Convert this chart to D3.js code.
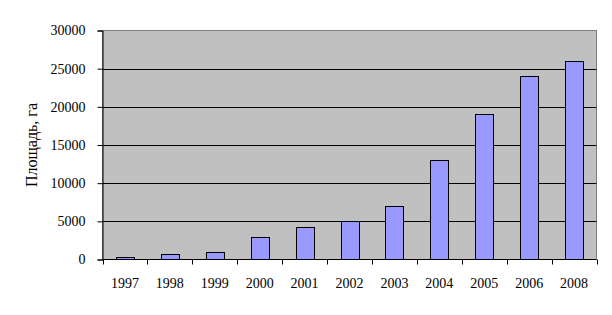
<!DOCTYPE html>
<html>
<head>
<meta charset="utf-8">
<script src="https://cdn.jsdelivr.net/npm/d3@7"></script>
<style>
  body { margin: 0; background: #fff; }
  text { font-family: "Liberation Serif", "Times New Roman", serif; }
</style>
</head>
<body>
<div id="chart"></div>
<script>
const years = ['1997', '1998', '1999', '2000', '2001', '2002', '2003', '2004', '2005', '2006', '2008'];
const areas = [300, 700, 1000, 3000, 4200, 5000, 7000, 13100, 19000, 24000, 26000];
const yTicks = [0, 5000, 10000, 15000, 20000, 25000, 30000];
const yTitle = 'Площадь, га';

const W = 612, H = 315;
const plot = {left: 102.5, right: 596.5, top: 30.5, bottom: 259.5};

const svg = d3.select('#chart').append('svg')
    .attr('width', W)
    .attr('height', H);

const x = d3.scaleBand()
    .domain(years)
    .range([plot.left, plot.right])
    .paddingInner(0.6)
    .paddingOuter(0.3);

const xEdge = d3.scaleLinear()
    .domain([0, years.length])
    .range([plot.left, plot.right]);

const y = d3.scaleLinear()
    .domain([0, 30000])
    .range([plot.bottom, plot.top]);

// фон области построения
svg.append('rect')
    .attr('x', plot.left)
    .attr('y', plot.top)
    .attr('width', plot.right - plot.left)
    .attr('height', plot.bottom - plot.top)
    .attr('fill', '#c0c0c0')
    .attr('stroke', '#808080')
    .attr('stroke-width', 1);

// линии сетки
svg.append('g')
    .selectAll('line')
    .data(yTicks.filter(d => d > 0 && d < 30000))
    .enter()
    .append('line')
    .attr('x1', plot.left)
    .attr('x2', plot.right)
    .attr('y1', d => Math.round(y(d)) + 0.5)
    .attr('y2', d => Math.round(y(d)) + 0.5)
    .attr('stroke', '#000');

// столбцы
svg.append('g')
    .selectAll('rect')
    .data(areas)
    .enter()
    .append('rect')
    .attr('x', (d, i) => Math.round(x(years[i])) + 0.5)
    .attr('y', d => Math.round(y(d)) + 0.5)
    .attr('width', Math.round(x.bandwidth()))
    .attr('height', d => plot.bottom - Math.round(y(d)) - 0.5)
    .attr('fill', '#9999ff')
    .attr('stroke', '#000')
    .attr('stroke-width', 1);

// ось Y
const yAxis = svg.append('g')
    .attr('transform', `translate(${plot.left},0)`)
    .call(d3.axisLeft(y).tickValues(yTicks).tickSize(5).tickPadding(12).tickFormat(d3.format('d')));
yAxis.select('.domain').attr('stroke', '#000');
yAxis.selectAll('.tick line').attr('stroke', '#000');
yAxis.selectAll('text')
    .attr('fill', '#000')
    .style('font-size', '14px')
    .style('font-family', '"Liberation Serif", serif');

// ось X
const xg = svg.append('g');
xg.append('line')
    .attr('x1', plot.left)
    .attr('x2', plot.right)
    .attr('y1', plot.bottom)
    .attr('y2', plot.bottom)
    .attr('stroke', '#000');
xg.selectAll('.xtick')
    .data(d3.range(years.length + 1))
    .enter()
    .append('line')
    .attr('x1', d => Math.round(xEdge(d)) + 0.5)
    .attr('x2', d => Math.round(xEdge(d)) + 0.5)
    .attr('y1', plot.bottom)
    .attr('y2', plot.bottom + 5)
    .attr('stroke', '#000');
xg.selectAll('.xlabel')
    .data(years)
    .enter()
    .append('text')
    .attr('x', d => x(d) + x.bandwidth() / 2)
    .attr('y', 288)
    .attr('text-anchor', 'middle')
    .style('font-size', '14px')
    .text(d => d);

// подпись оси Y
svg.append('text')
    .attr('transform', `translate(37, ${(plot.top + plot.bottom) / 2}) rotate(-90)`)
    .attr('text-anchor', 'middle')
    .style('font-size', '16px')
    .text(yTitle);
</script>
</body>
</html>
